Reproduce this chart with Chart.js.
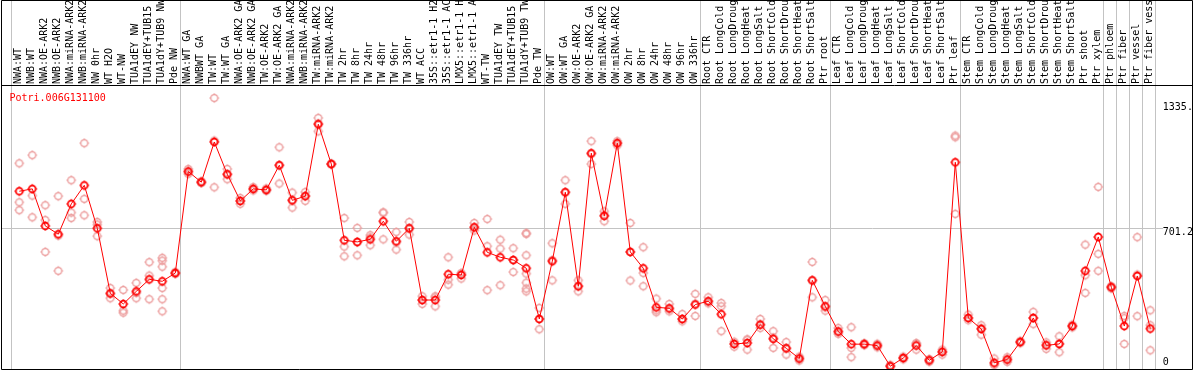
<!DOCTYPE html>
<html>
<head>
<meta charset="utf-8">
<script src="https://cdn.jsdelivr.net/npm/chart.js@4.4.1/dist/chart.umd.min.js"></script>
<style>
  html, body { margin: 0; padding: 0; background: #fff; }
  canvas { display: block; }
</style>
</head>
<body>
<canvas id="chart" width="1194" height="370"></canvas>
<script>
// Sample groups (a gray separator is drawn between groups)
const nwLabels = ['NWA:WT', 'NWB:WT', 'NWA:OE-ARK2', 'NWB:OE-ARK2', 'NWA:miRNA-ARK2', 'NWB:miRNA-ARK2',
    'NW 0hr', 'WT H2O', 'WT-NW', 'TUA1dEY NW', 'TUA1dEY+TUB15 NW', 'TUA1dY+TUB9 NW', 'Pde NW'];
const twLabels = ['NWA:WT GA', 'NWBWT GA', 'TW:WT', 'TW:WT GA', 'NWA:OE-ARK2 GA', 'NWB:OE-ARK2 GA',
    'TW:OE-ARK2', 'TW:OE-ARK2 GA', 'NWA:miRNA-ARK2', 'NWB:miRNA-ARK2', 'TW:miRNA-ARK2', 'TW:miRNA-ARK2',
    'TW 2hr', 'TW 8hr', 'TW 24hr', 'TW 48hr', 'TW 96hr', 'TW 336hr', 'WT ACC',
    '35S::etr1-1 H2O', '35S::etr1-1 ACC', 'LMX5::etr1-1 H2O', 'LMX5::etr1-1 ACC',
    'WT-TW', 'TUA1dEY TW', 'TUA1dEY+TUB15 TW', 'TUA1dY+TUB9 TW', 'Pde TW'];
const owLabels = ['OW:WT', 'OW:WT GA', 'OW:OE-ARK2', 'OW:OE-ARK2 GA', 'OW:miRNA-ARK2', 'OW:miRNA-ARK2',
    'OW 2hr', 'OW 8hr', 'OW 24hr', 'OW 48hr', 'OW 96hr', 'OW 336hr'];
const rootLabels = ['Root CTR', 'Root LongCold', 'Root LongDrought', 'Root LongHeat', 'Root LongSalt',
    'Root ShortCold', 'Root ShortDrought', 'Root ShortHeat', 'Root ShortSalt', 'Ptr root'];
const leafLabels = ['Leaf CTR', 'Leaf LongCold', 'Leaf LongDrought', 'Leaf LongHeat', 'Leaf LongSalt',
    'Leaf ShortCold', 'Leaf ShortDrought', 'Leaf ShortHeat', 'Leaf ShortSalt', 'Ptr leaf'];
const stemLabels = ['Stem CTR', 'Stem LongCold', 'Stem LongDrought', 'Stem LongHeat', 'Stem LongSalt',
    'Stem ShortCold', 'Stem ShortDrought', 'Stem ShortHeat', 'Stem ShortSalt', 'Ptr shoot', 'Ptr xylem'];
const groups = [nwLabels, twLabels, owLabels, rootLabels, leafLabels, stemLabels,
    ['Ptr phloem'], ['Ptr fiber'], ['Ptr vessel'], ['Ptr fiber vessel']];

const geneName = 'Potri.006G131100';

// Mean expression per sample (red line)
const meanValues = [
    889, 901, 713, 671, 825, 919, 701, 371, 317, 381, 442, 432, 474,
    989, 935, 1139, 975, 840, 901, 896, 1021, 843, 864, 1229, 1027, 640, 632, 645, 737, 635, 701,
    337, 337, 468, 464, 706, 579, 554, 540, 498, 241,
    534, 884, 407, 1082, 764, 1133, 581, 498, 300, 295, 241, 314,
    331, 265, 114, 119, 212, 140, 92, 40, 437, 305,
    177, 113, 113, 106, 1, 43, 106, 31, 74, 1036,
    246, 190, 19, 35, 124, 246, 107, 114, 205, 485, 657,
    402, 205, 459, 192
];

// Replicate values per sample (light circles)
const replicateValues = [
    [1031, 833, 793], [1072, 867, 757], [818, 743, 581], [864, 664, 485], [945, 781, 753],
    [1133, 850, 767], [733, 720, 661], [398, 369, 346], [388, 283, 273], [424, 373, 346],
    [529, 461, 341], [551, 537, 506, 398, 341, 280], [480, 470, 472],
    [1002, 990, 977], [940, 932, 933], [1362, 1146, 909], [1002, 975, 950], [855, 840, 825],
    [910, 900, 893], [903, 896, 890], [1112, 1021, 928], [882, 843, 806], [885, 866, 840],
    [1261, 1233, 1193], [1030, 1027, 1025], [753, 608, 559], [703, 630, 564], [666, 655, 615],
    [781, 781, 645], [682, 630, 593], [733, 701, 669], [356, 337, 317], [356, 350, 305],
    [554, 440, 415], [474, 470, 446], [728, 706, 690], [748, 610, 387], [643, 598, 412],
    [600, 540, 479], [677, 672, 564, 471, 425, 395, 381], [297, 241, 189],
    [625, 540, 437], [945, 884, 825], [437, 407, 381], [1143, 1078, 1027], [787, 767, 737],
    [1143, 1133, 1122], [728, 581, 436], [605, 474, 407], [344, 285, 275], [317, 290, 280],
    [266, 241, 229], [368, 318, 256],
    [351, 330, 320], [322, 305, 179], [125, 115, 100], [134, 138, 85], [241, 212, 195],
    [179, 146, 94], [124, 92, 60], [50, 40, 30], [530, 437, 351], [337, 300, 283],
    [195, 177, 165], [199, 94, 47], [118, 113, 108], [115, 106, 97], [8, 2, 0],
    [50, 43, 36], [119, 114, 85], [38, 31, 24], [85, 74, 60], [1171, 1163, 774],
    [263, 246, 235], [209, 195, 161], [40, 10, 9], [47, 35, 23], [130, 124, 118],
    [277, 246, 215], [122, 110, 89], [153, 117, 72], [212, 205, 198], [618, 463, 373], [911, 571, 485],
    [408, 402, 396], [256, 245, 114], [656, 466, 255], [285, 209, 82]
];

// Right axis ticks
const yTickValues = [0, 701.2, 1335];
const yTickLabels = ['0', '701.2', '1335.'];
const gridValue = 701.2;

const categories = groups.flat();
const groupStarts = [];
groups.reduce((start, g) => { groupStarts.push(start); return start + g.length; }, 0);
groupStarts.push(categories.length);

const monoFont = '"DejaVu Sans Mono", "Liberation Mono", monospace';

// Circle marker with small ticks, like the original plot symbol
function makeMarker(color, width) {
    const c = document.createElement('canvas');
    c.width = 12;
    c.height = 12;
    const g = c.getContext('2d');
    g.strokeStyle = color;
    g.fillStyle = color;
    g.lineWidth = width;
    g.beginPath();
    g.arc(6, 6, 3.4, 0, Math.PI * 2);
    g.stroke();
    g.fillRect(5.5, 1, 1, 1.5);
    g.fillRect(5.5, 9.5, 1, 1.5);
    g.fillRect(1, 5.5, 1.5, 1);
    g.fillRect(9.5, 5.5, 1.5, 1);
    return c;
}

const meanMarker = makeMarker('#ff0000', 1.7);
const repMarker = makeMarker('#ec9c9c', 1.2);

const meanPoints = meanValues.map((v, i) => ({ x: i, y: v }));
const repPoints = [];
replicateValues.forEach((reps, i) => reps.forEach(v => repPoints.push({ x: i, y: v })));

// no extra layout padding from the axes
function noPadding(axis) {
    axis.paddingLeft = 0;
    axis.paddingRight = 0;
    axis.paddingTop = 0;
    axis.paddingBottom = 0;
}

// Frame, separators, gridline and gene name
const decorPlugin = {
    id: 'decor',
    beforeDatasetsDraw(chart) {
        const { ctx, chartArea, scales } = chart;
        const x = scales.x, y = scales.y;
        ctx.save();
        ctx.strokeStyle = '#c3c3c3';
        ctx.lineWidth = 1;
        ctx.beginPath();
        groupStarts.forEach(i => {
            const px = Math.round(x.getPixelForValue(i - 0.5) - 1.5) + 0.5;
            ctx.moveTo(px, 0);
            ctx.lineTo(px, chartArea.bottom);
        });
        const gy = Math.round(y.getPixelForValue(gridValue)) + 0.5;
        ctx.moveTo(1.5, gy);
        ctx.lineTo(1163, gy);
        ctx.stroke();
        ctx.restore();
    },
    afterDraw(chart) {
        const { ctx, chartArea, width } = chart;
        ctx.save();
        ctx.strokeStyle = '#000';
        ctx.lineWidth = 1;
        ctx.beginPath();
        ctx.rect(1.5, 0.5, width - 3, chartArea.bottom);
        ctx.moveTo(1.5, chartArea.top - 0.5);
        ctx.lineTo(width - 1.5, chartArea.top - 0.5);
        ctx.stroke();
        ctx.fillStyle = '#ff0000';
        ctx.font = '10px ' + monoFont;
        ctx.textBaseline = 'alphabetic';
        ctx.fillText(geneName, 9.5, chartArea.top + 14.5);
        ctx.restore();
    }
};

new Chart(document.getElementById('chart'), {
    type: 'line',
    data: {
        datasets: [
            {
                label: 'mean',
                data: meanPoints,
                borderColor: '#ff0000',
                borderWidth: 1,
                pointStyle: meanMarker,
                pointRadius: 4,
                tension: 0,
                order: 1
            },
            {
                label: 'replicates',
                data: repPoints,
                showLine: false,
                pointStyle: repMarker,
                pointRadius: 4,
                order: 2
            }
        ]
    },
    options: {
        responsive: false,
        animation: false,
        layout: { autoPadding: false, padding: { left: 12.8, right: 0, top: 0, bottom: 1 } },
        plugins: { legend: { display: false }, tooltip: { enabled: false } },
        scales: {
            x: {
                type: 'linear',
                position: 'top',
                min: -0.5,
                max: categories.length - 0.5,
                bounds: 'data',
                grid: { display: false, drawTicks: false },
                border: { display: false },
                afterBuildTicks: axis => { axis.ticks = categories.map((c, i) => ({ value: i })); },
                afterFit: axis => { axis.height = 86; noPadding(axis); },
                ticks: {
                    autoSkip: false,
                    minRotation: 90,
                    maxRotation: 90,
                    padding: 2,
                    labelOffset: 11.5,
                    color: '#000',
                    font: { family: monoFont, size: 10 },
                    callback: v => categories[v]
                }
            },
            y: {
                type: 'linear',
                position: 'right',
                min: -13,
                max: 1423,
                grid: { display: false, drawTicks: false },
                border: { display: false },
                afterBuildTicks: axis => { axis.ticks = yTickValues.map(v => ({ value: v })); },
                afterFit: axis => { axis.width = 37.2; noPadding(axis); },
                ticks: {
                    padding: 6,
                    color: '#000',
                    font: { family: monoFont, size: 10, lineHeight: 0.8 },
                    // top-align the labels, except 0 which sits on the bottom edge
                    callback: v => {
                        const t = yTickLabels[yTickValues.indexOf(v)];
                        return v === 0 ? [t, ''] : ['', t];
                    }
                }
            }
        }
    },
    plugins: [decorPlugin]
});
</script>
</body>
</html>
